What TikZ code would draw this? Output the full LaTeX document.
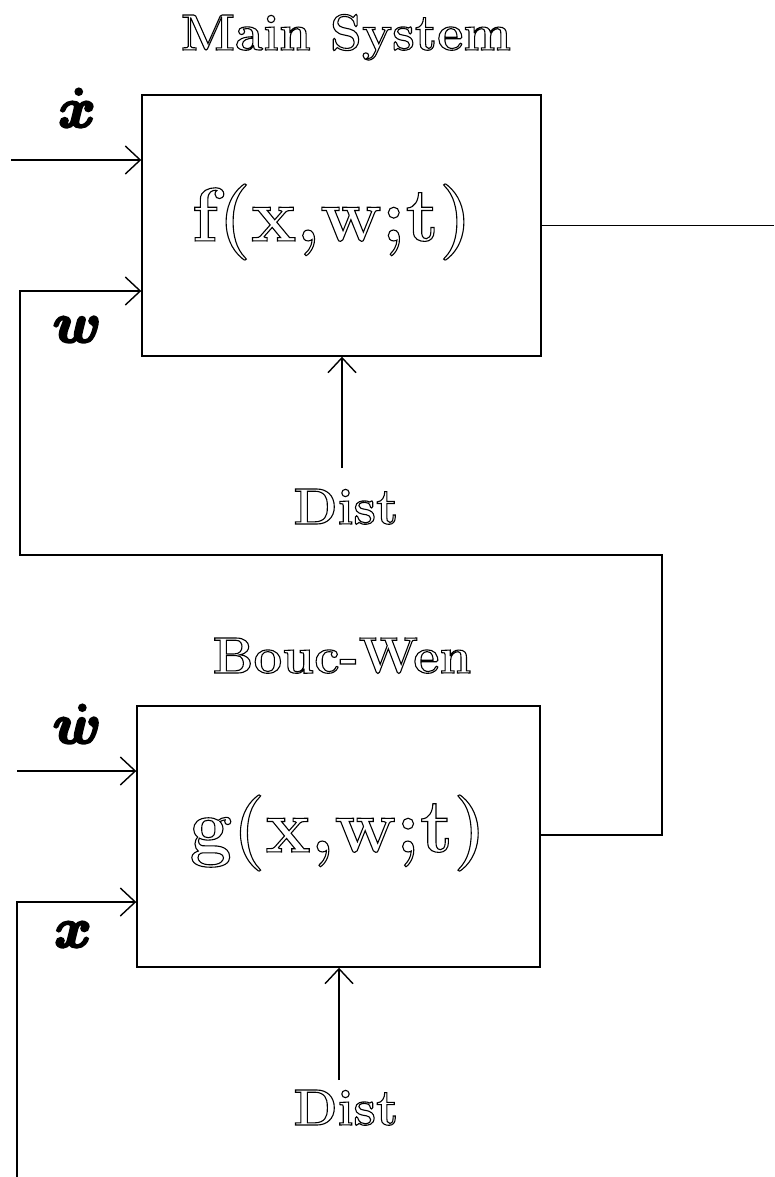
\documentclass[tikz,border=0pt]{standalone}
\usepackage{amsmath,bm}
\usepackage{fontspec}
\usetikzlibrary{arrows.meta}
\newcommand{\hollowtext}[1]{\special{pdf:literal direct 1 Tr 1.1 w}#1\special{pdf:literal direct 0 Tr}}
\newcommand{\heavytext}[1]{\special{pdf:literal direct 2 Tr 0.45 w}#1\special{pdf:literal direct 0 Tr}}
\tikzset{
  ln/.style={line width=1.4pt, draw=black},
  arr/.style={ln, -{Straight Barb[length=15pt,width=28pt,line width=1.4pt]}},
  blk/.style={ln, rectangle, inner sep=0pt},
  ttl/.style={inner sep=0pt, anchor=base, font=\bfseries\fontsize{51}{56}\selectfont},
  big/.style={inner sep=0pt, font=\bfseries\fontsize{76}{82}\selectfont},
  lab/.style={inner sep=0pt, anchor=base, scale=5.6}
}
\begin{document}
\begin{tikzpicture}[x=1pt,y=-1pt]
\useasboundingbox (0,0) rectangle (774,1177);
% blocks
\node[blk, minimum width=399pt, minimum height=261pt] (fbox) at (341.5,225.5) {};
\node[blk, minimum width=403pt, minimum height=261pt] (gbox) at (338.5,836.5) {};
% texts
\node[big] (ftxt) at (332,222) {\hollowtext{f(x,w;t)}};
\node[big] (gtxt) at (338,833) {\hollowtext{g(x,w;t)}};
\node[ttl] (mtitle) at (346,50) {\hollowtext{Main System}};
\node[ttl] (btitle) at (342,673) {\hollowtext{Bouc-Wen}};
\node[ttl] (d1) at (346,524) {\hollowtext{Dist}};
\node[ttl] (d2) at (346,1125) {\hollowtext{Dist}};
% labels
\node[lab] (lxd) at (77,127) {\heavytext{$\bm{\dot{x}}$}};
\node[lab] (lw) at (77,342) {\heavytext{$\bm{w}$}};
\node[lab] (lwd) at (77,743) {\heavytext{$\bm{\dot{w}}$}};
\node[lab] (lx) at (73,947) {\heavytext{$\bm{x}$}};
% coordinates
\coordinate (xdin) at (11,160);
\coordinate (wdin) at (17,771);
\coordinate (out) at (774,225.5);
\coordinate (c1) at (342,468);
\coordinate (c2) at (339,1080);
\coordinate (xbot) at (17,1177);
\coordinate (xcorner) at (17,902);
\coordinate (lp1) at (662,835);
\coordinate (lp2) at (662,555);
\coordinate (lp3) at (20,555);
\coordinate (lp4) at (20,291);
% connectors
\draw[arr] (xdin) -- (xdin -| fbox.west);
\draw[arr] (wdin) -- (wdin -| gbox.west);
\draw[ln] (fbox.east) -- (out);
\draw[arr] (c1) -- (c1 |- fbox.south);
\draw[arr] (c2) -- (c2 |- gbox.south);
\draw[arr] (lp1 -| gbox.east) -- (lp1) -- (lp2) -- (lp3) -- (lp4) -- (lp4 -| fbox.west);
\draw[arr] (xbot) -- (xcorner) -- (xcorner -| gbox.west);
\end{tikzpicture}
\end{document}
